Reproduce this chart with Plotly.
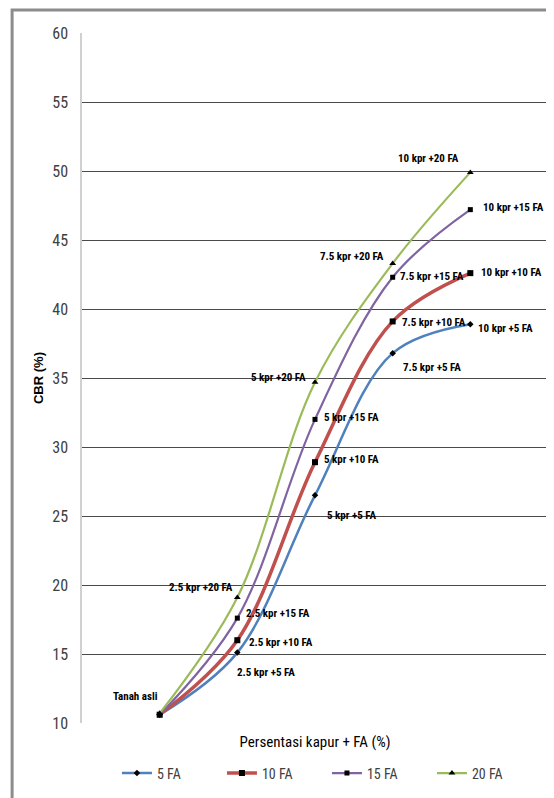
import plotly.graph_objects as go

# ---- data ----
kapur = [0, 2.5, 5, 7.5, 10]
series_names = ["5 FA", "10 FA", "15 FA", "20 FA"]
cbr_5fa = [10.6, 15.1, 26.5, 36.8, 38.9]
cbr_10fa = [10.6, 16.0, 28.9, 39.1, 42.6]
cbr_15fa = [10.6, 17.6, 32.0, 42.3, 47.2]
cbr_20fa = [10.7, 19.1, 34.7, 43.3, 49.9]
labels_5fa = ["", "2.5 kpr +5 FA", "5 kpr +5 FA", "7.5 kpr +5 FA", "10 kpr +5 FA"]
labels_10fa = ["", "2.5 kpr +10 FA", "5 kpr +10 FA", "7.5 kpr +10 FA", "10 kpr +10 FA"]
labels_15fa = ["", "2.5 kpr +15 FA", "5 kpr +15 FA", "7.5 kpr +15 FA", "10 kpr +15 FA"]
labels_20fa = ["Tanah asli", "2.5 kpr +20 FA", "5 kpr +20 FA", "7.5 kpr +20 FA", "10 kpr +20 FA"]
y_ticks = [10, 15, 20, 25, 30, 35, 40, 45, 50, 55, 60]

# ---- styles ----
NARROW = "Liberation Sans Narrow, Arial Narrow, Roboto Condensed, Roboto, sans-serif"
colors = ["#4F81BD", "#C0504D", "#8064A2", "#9BBB59"]
widths = [2.5, 3.5, 2.2, 2.2]
symbols = ["diamond", "square", "square", "triangle-up"]
msizes = [5, 6, 5, 6]
all_values = [cbr_5fa, cbr_10fa, cbr_15fa, cbr_20fa]
all_labels = [labels_5fa, labels_10fa, labels_15fa, labels_20fa]

# label placement (anchor, xshift, yshift) per series, per point
offsets = [
    [None, ("left", -2, -20), ("left", 10, -20), ("left", 8, -14), ("left", 6, -4)],
    [None, ("left", 10, -2), ("left", 7, 3), ("left", 7, -1), ("left", 9, 1)],
    [None, ("left", 7, 5), ("left", 7, 2), ("left", 5, 1), ("left", 11, 2)],
    [("center", -24, 17), ("right", -2, 10), ("right", -7, 5), ("right", -7, 7), ("right", -9, 14)],
]

fig = go.Figure()
for name, vals, c, w, s, ms in zip(series_names, all_values, colors, widths, symbols, msizes):
    fig.add_trace(go.Scatter(
        x=kapur, y=vals, name=name, mode="lines+markers",
        line=dict(color=c, width=w, shape="spline", smoothing=1.0),
        marker=dict(symbol=s, size=ms, color="black"),
    ))

annotations = []
for vals, labs, offs in zip(all_values, all_labels, offsets):
    for xv, yv, lab, off in zip(kapur, vals, labs, offs):
        if not lab or off is None:
            continue
        anchor, xs, ys = off
        annotations.append(dict(
            x=xv, y=yv, xref="x", yref="y", text=lab, showarrow=False,
            xanchor=anchor, yanchor="middle", xshift=xs, yshift=ys,
            font=dict(family=NARROW, size=11, color="black", weight="bold"),
        ))

# page body has an 8px margin, so the figure is shifted by 8px right/down
fig.update_layout(
    width=554, height=798,
    margin=dict(l=74, r=14, t=25, b=83, autoexpand=False),
    paper_bgcolor="white", plot_bgcolor="white",
    annotations=annotations,
    showlegend=True,
    legend=dict(
        orientation="h", x=0.075, xanchor="left", y=-0.050, yanchor="top",
        entrywidth=60, entrywidthmode="pixels",
        font=dict(family=NARROW, size=14, color="#404040"),
        itemwidth=30, tracegroupgap=0,
    ),
    shapes=[dict(
        type="rect", xref="paper", yref="paper",
        x0=-0.150, x1=1.2, y0=-0.2, y1=1.0333,
        line=dict(color="#8c8c8c", width=3), layer="below",
    )],
)

fig.update_xaxes(
    range=[-2.5, 12.5], showticklabels=False, showgrid=False, zeroline=False,
    showline=False, ticks="", automargin=False,
    title=dict(text="Persentasi kapur + FA (%)", standoff=13,
               font=dict(family=NARROW, size=15, color="black")),
)
fig.update_yaxes(
    range=[10, 60], tickvals=y_ticks, showgrid=True, gridcolor="#4a4a4a", gridwidth=1,
    zeroline=False, showline=True, linecolor="#d0d0d0", linewidth=1.5,
    ticks="", ticklabelstandoff=9, automargin=False,
    tickfont=dict(family=NARROW, size=16, color="#404040"),
    title=dict(text="CBR (%)", standoff=6,
               font=dict(family="Liberation Sans, Arial, sans-serif", size=13, color="black", weight="bold")),
)

fig.write_html("out.html")
